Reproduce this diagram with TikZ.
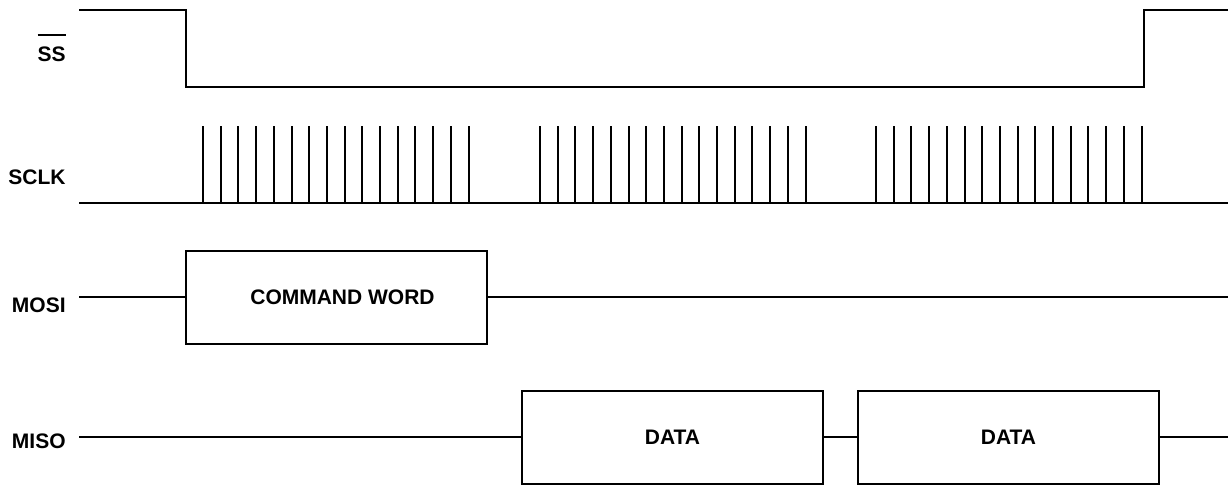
\documentclass[tikz,border=0pt]{standalone}
\usepackage{fontspec}
\setmainfont{Liberation Sans}
\usepackage{tikz}
\usetikzlibrary{positioning,calc}

\newcommand\activelow[1]{\vbox{\hrule height 1pt\vskip 5.8pt\hbox{#1}}}

\begin{document}
\begin{tikzpicture}[x=0.5pt,y=-0.5pt,
        wire/.style={line width=1pt},
        siglabel/.style={anchor=base east,inner sep=0pt,font=\fontsize{10.5}{12}\selectfont\bfseries},
        databox/.style={draw,line width=1pt,minimum width=150.5pt,minimum height=46.5pt,inner sep=0pt,
            font=\fontsize{10.5}{12}\selectfont\bfseries}]
        \useasboundingbox (0,0) rectangle (1228,485);

        % Labels
        \node[siglabel] (ss) at (66, 62) {\activelow{SS}};
        \node[siglabel] (sclk) at (66, 185) {SCLK};
        \node[siglabel] (mosi) at (66, 313) {MOSI};
        \node[siglabel] (miso) at (66, 449) {MISO};

        %%%% SS =========================================
        \coordinate (ss0) at (79, 10);
        \coordinate (ss1) at (186, 10);
        \coordinate (ss2) at (1144, 87);
        \coordinate (ss3) at (1228, 10);
        \draw[wire] (ss0) -- (ss1) |- (ss2) |- (ss3);

        %%%% SCLK =======================================
        \coordinate (ck0) at (79, 203);
        \coordinate (ck1) at (1228, 203);
        \draw[wire] (ck0) -- (ck1);
        \foreach \start in {203, 540, 876} {
            \foreach \i in {0,...,15} {
                \draw[wire] (\start+\i*17.7, 203) -- (\start+\i*17.7, 126);
            }
        }

        %%%% MOSI =======================================
        \node[databox] (cmd) at (336.5, 297.5) {\hspace*{6pt}COMMAND WORD};
        \coordinate (mosi0) at (79, 297.5);
        \coordinate (mosi1) at (1228, 297.5);
        \draw[wire] (mosi0) -- (cmd.west);
        \draw[wire] (cmd.east) -- (mosi1);

        %%%% MISO =======================================
        \node[databox] (data1) at (672.5, 437.5) {DATA};
        \node[databox] (data2) at (1008.5, 437.5) {DATA};
        \coordinate (miso0) at (79, 437.5);
        \coordinate (miso1) at (1228, 437.5);
        \draw[wire] (miso0) -- (data1.west);
        \draw[wire] (data1.east) -- (data2.west);
        \draw[wire] (data2.east) -- (miso1);
    \end{tikzpicture}
\end{document}
